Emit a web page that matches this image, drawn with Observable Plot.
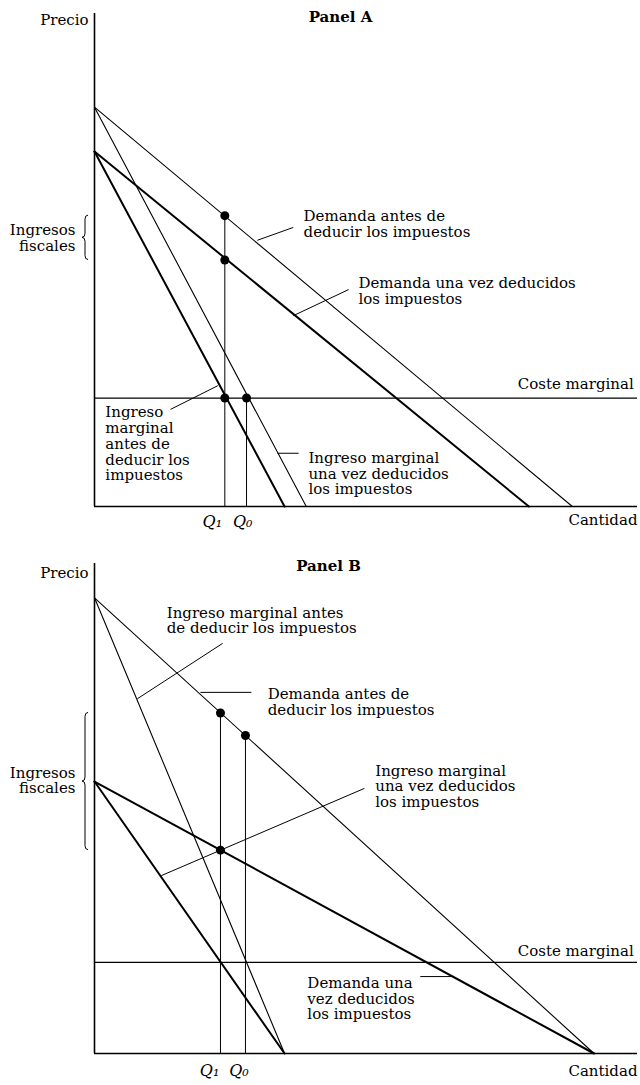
<!DOCTYPE html>
<html><head><meta charset="utf-8">
<script src="https://cdn.jsdelivr.net/npm/d3@7"></script>
<script src="https://cdn.jsdelivr.net/npm/@observablehq/plot@0.6"></script>
<style>body{margin:0;background:#fff} svg{display:block}</style>
</head><body><div id="chart"></div>
<script>
// ---------- Panel A data (quantity q, price p; axes 0..100) ----------
const demandBeforeA = [{q:0,p:81},{q:88,p:0}];
const demandAfterA  = [{q:0,p:72},{q:80,p:0}];
const mrThickA      = [{q:0,p:72},{q:35,p:0}];
const mrThinA       = [{q:0,p:81},{q:39,p:0}];
const mcA = 22;
const stemsA = [{q:24,p:59},{q:28,p:22}];
const dotsA  = [{q:24,p:59},{q:24,p:50},{q:24,p:22},{q:28,p:22}];
const braceA = [59,50];
const qLabelsA = [{q:21.7,p:-3.2,t:"Q₁"},{q:27.3,p:-3.2,t:"Q₀"}];
const labelsA = [
  {q:38.5,p:57.3,t:"Demanda antes de\ndeducir los impuestos",a:"start"},
  {q:48.6,p:43.7,t:"Demanda una vez deducidos\nlos impuestos",a:"start"},
  {q:99.3,p:24.9,t:"Coste marginal",a:"end"},
  {q:2.0,p:12.7,t:"Ingreso\nmarginal\nantes de\ndeducir los\nimpuestos",a:"start"},
  {q:39.4,p:6.7,t:"Ingreso marginal\nuna vez deducidos\nlos impuestos",a:"start"},
  {q:-3.5,p:54.5,t:"Ingresos\nfiscales",a:"end"},
  {q:-1.1,p:98.6,t:"Precio",a:"end"},
  {q:100,p:-2.8,t:"Cantidad",a:"end"}
];
const leadersA = [
  {q1:30.0,p1:54.0,q2:36.6,p2:56.6},
  {q1:36.6,p1:38.7,q2:46.8,p2:44.0},
  {q1:14.0,p1:19.7,q2:22.7,p2:24.5},
  {q1:33.7,p1:10.8,q2:37.6,p2:10.8}
];
const titleA = [{q:45.3,p:99.2,t:"Panel A"}];

// ---------- Panel B data ----------
const demandBeforeB = [{q:0,p:93},{q:92,p:0}];
const demandAfterB  = [{q:0,p:55.5},{q:92,p:0}];
const mrThickB      = [{q:0,p:55.5},{q:35,p:0}];
const mrThinB       = [{q:0,p:93},{q:35,p:0}];
const mcB = 18.6;
const stemsB = [{q:23.2,p:69.5},{q:27.8,p:64.9}];
const dotsB  = [{q:23.2,p:69.5},{q:27.8,p:64.9},{q:23.2,p:41.5}];
const braceB = [69.5,41.5];
const qLabelsB = [{q:21.2,p:-3.6,t:"Q₁"},{q:26.6,p:-3.6,t:"Q₀"}];
const labelsB = [
  {q:13.3,p:88.4,t:"Ingreso marginal antes\nde deducir los impuestos",a:"start"},
  {q:31.9,p:71.7,t:"Demanda antes de\ndeducir los impuestos",a:"start"},
  {q:51.7,p:54.5,t:"Ingreso marginal\nuna vez deducidos\nlos impuestos",a:"start"},
  {q:99.3,p:21.0,t:"Coste marginal",a:"end"},
  {q:39.2,p:11.2,t:"Demanda una\nvez deducidos\nlos impuestos",a:"start"},
  {q:-3.5,p:55.7,t:"Ingresos\nfiscales",a:"end"},
  {q:-1.1,p:98.0,t:"Precio",a:"end"},
  {q:100,p:-3.5,t:"Cantidad",a:"end"}
];
const leadersB = [
  {q1:7.9,p1:72.4,q2:23.6,p2:83.7},
  {q1:19.5,p1:73.7,q2:28.9,p2:73.7},
  {q1:12.3,p1:36.3,q2:49.7,p2:54.1},
  {q1:60.0,p1:15.7,q2:65.7,p2:15.7}
];
const titleB = [{q:43.1,p:99.4,t:"Panel B"}];

const FONT = "'DejaVu Serif', 'Liberation Serif', serif";

function brace(range) {
  return (index, scales) => {
    const x = scales.x(0) - 9;
    const y1 = scales.y(range[0]), y2 = scales.y(range[1]);
    const ym = (y1 + y2) / 2, c = 4;
    const d = `M${x+3},${y1} Q${x},${y1} ${x},${y1+c} L${x},${ym-c} Q${x},${ym} ${x-3},${ym} Q${x},${ym} ${x},${ym+c} L${x},${y2-c} Q${x},${y2} ${x+3},${y2}`;
    return d3.create("svg:path").attr("d", d).attr("fill", "none")
      .attr("stroke", "black").attr("stroke-width", 1).node();
  };
}

function textMarks(labels) {
  return ["start", "end"].map(a => Plot.text(labels.filter(d => d.a === a), {
    x: "q", y: "p", text: "t", textAnchor: a, fontSize: 15, lineHeight: 1.05,
    lineAnchor: "middle", fill: "black"
  }));
}

function panel(o) {
  return Plot.plot({
    width: 640, height: o.height,
    marginLeft: 94, marginRight: 3, marginTop: o.marginTop, marginBottom: o.marginBottom,
    x: {domain: [0, 100], axis: null},
    y: {domain: [0, 100], axis: null},
    style: {fontFamily: FONT, background: "white", color: "black"},
    marks: [
      Plot.ruleX([0], {y1: 0, y2: 100, strokeWidth: 1.6}),
      Plot.ruleY([0], {x1: 0, x2: 100, strokeWidth: 1.6}),
      Plot.ruleY([o.mc], {x1: 0, x2: 100, strokeWidth: 1.2}),
      Plot.line(o.demandBefore, {x: "q", y: "p", strokeWidth: 1.1}),
      Plot.line(o.mrThin, {x: "q", y: "p", strokeWidth: 1.1}),
      Plot.line(o.demandAfter, {x: "q", y: "p", strokeWidth: 2}),
      Plot.line(o.mrThick, {x: "q", y: "p", strokeWidth: 2}),
      Plot.ruleX(o.stems, {x: "q", y1: 0, y2: "p", strokeWidth: 1}),
      Plot.link(o.leaders, {x1: "q1", y1: "p1", x2: "q2", y2: "p2", strokeWidth: 1}),
      Plot.dot(o.dots, {x: "q", y: "p", r: 4.5, fill: "black"}),
      ...textMarks(o.labels),
      Plot.text(o.qLabels, {x: "q", y: "p", text: "t", fontSize: 16, fontStyle: "italic", lineAnchor: "middle", fill: "black"}),
      Plot.text(o.title, {x: "q", y: "p", text: "t", fontSize: 15, fontWeight: "bold", lineAnchor: "middle", fill: "black"}),
      brace(o.brace)
    ]
  });
}

const chart = document.getElementById("chart");
chart.append(panel({
  height: 540, marginTop: 13, marginBottom: 34, mc: mcA,
  demandBefore: demandBeforeA, demandAfter: demandAfterA, mrThin: mrThinA, mrThick: mrThickA,
  stems: stemsA, dots: dotsA, brace: braceA, labels: labelsA, leaders: leadersA, qLabels: qLabelsA, title: titleA
}));
chart.append(panel({
  height: 545, marginTop: 23, marginBottom: 32, mc: mcB,
  demandBefore: demandBeforeB, demandAfter: demandAfterB, mrThin: mrThinB, mrThick: mrThickB,
  stems: stemsB, dots: dotsB, brace: braceB, labels: labelsB, leaders: leadersB, qLabels: qLabelsB, title: titleB
}));
</script>
</body></html>
